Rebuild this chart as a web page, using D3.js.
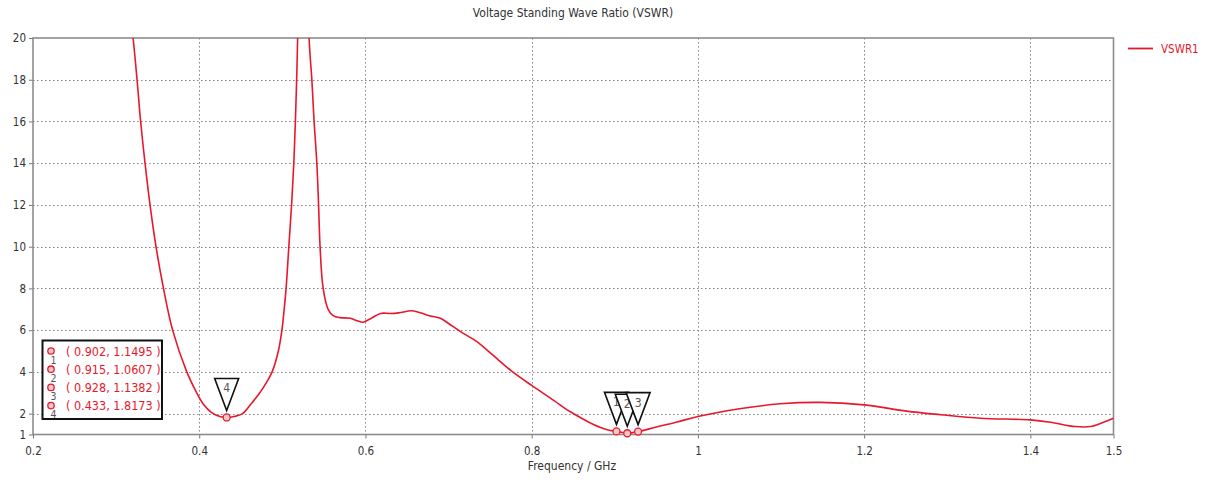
<!DOCTYPE html>
<html><head><meta charset="utf-8">
<script src="https://cdn.jsdelivr.net/npm/d3@7"></script>
<style>
body{margin:0;background:#fff;}
text{font-family:"DejaVu Sans Condensed","DejaVu Sans",sans-serif;font-stretch:condensed;}
</style>
</head><body>
<svg id="chart" width="1208" height="485"></svg>
<script>
// ---- data ----
const freq = [0.300,0.3204,0.3252,0.3295,0.3348,0.3408,0.348,0.357,0.368,0.385,0.395,0.405,0.415,0.425,0.433,0.442,0.452,0.462,0.472,0.481,0.4877,0.4952,0.4995,0.5022,0.5045,0.5078,0.5111,0.5138,0.5157,0.5172,0.5184,0.521,0.525,0.529,0.5322,0.5355,0.5382,0.5415,0.5436,0.5454,0.5491,0.5551,0.5611,0.5695,0.5816,0.590,0.597,0.606,0.618,0.630,0.640,0.656,0.667,0.678,0.690,0.700,0.714,0.734,0.752,0.774,0.800,0.826,0.846,0.866,0.882,0.892,0.902,0.915,0.928,0.950,0.975,1.000,1.050,1.099,1.147,1.200,1.251,1.292,1.340,1.400,1.424,1.454,1.472,1.488,1.500];
const vswr = [27,20,18,16,14,12,10,8,6,4,3.15,2.45,2.05,1.86,1.8173,1.86,2.0,2.45,2.95,3.5,4.0,5.0,6.0,7.0,8.0,10,12,14,16,18,20,30,42,30,20,18,16,14,12,10,8.0,7.0,6.7,6.6,6.57,6.45,6.38,6.55,6.8,6.8,6.83,6.93,6.82,6.68,6.57,6.32,5.94,5.45,4.85,4.1,3.35,2.65,2.1,1.65,1.35,1.22,1.1495,1.0607,1.1382,1.36,1.6,1.86,2.23,2.47,2.54,2.42,2.12,1.95,1.78,1.70,1.59,1.38,1.38,1.59,1.78];
const xTicks = [0.2,0.4,0.6,0.8,1,1.2,1.4,1.5];
const yTicks = [1,2,4,6,8,10,12,14,16,18,20];
const xGrid = [0.4,0.6,0.8,1,1.2,1.4];
const yGrid = [2,4,6,8,10,12,14,16,18];
const markerIds = ["1","2","3","4"];
const markerFreq = [0.902,0.915,0.928,0.433];
const markerVswr = [1.1495,1.0607,1.1382,1.8173];
const seriesName = "VSWR1";
const titleText = "Voltage Standing Wave Ratio (VSWR)";
const xLabel = "Frequency / GHz";

// ---- layout ----
const L = 33, R = 1113.5, T = 38, B = 434.5;
const red = "#e8182c";
const svg = d3.select("#chart");
const x = d3.scaleLinear().domain([0.2,1.5]).range([L,R]);
const y = d3.scaleLinear().domain([1,20]).range([B,T]);

svg.append("text").attr("x",573).attr("y",17).attr("text-anchor","middle")
  .attr("font-size",12).attr("fill","#333").text(titleText);

// grid
const grid = svg.append("g").attr("stroke","#8a8a8a").attr("stroke-width",1).attr("stroke-dasharray","1.6,2.4");
grid.selectAll(".gx").data(xGrid).join("line")
  .attr("x1",d=>Math.round(x(d))+0.5).attr("x2",d=>Math.round(x(d))+0.5).attr("y1",T).attr("y2",B);
grid.selectAll(".gy").data(yGrid).join("line")
  .attr("y1",d=>Math.round(y(d))+0.5).attr("y2",d=>Math.round(y(d))+0.5).attr("x1",L).attr("x2",R);

// axes
const ax = svg.append("g").attr("transform",`translate(0,${B})`)
  .call(d3.axisBottom(x).tickValues(xTicks).tickFormat(d3.format("")).tickSize(4).tickPadding(8));
const ay = svg.append("g").attr("transform",`translate(${L},0)`)
  .call(d3.axisLeft(y).tickValues(yTicks).tickSize(4).tickPadding(3));
[ax,ay].forEach(g=>{
  g.select(".domain").remove();
  g.selectAll(".tick line").attr("stroke","#777");
  g.selectAll(".tick text").attr("font-size",11.5).attr("fill","#333")
   .style("font-family",'"DejaVu Sans Condensed","DejaVu Sans",sans-serif');
});

// frame
svg.append("rect").attr("x",L).attr("y",T).attr("width",R-L).attr("height",B-T)
  .attr("fill","none").attr("stroke","#8c8c8c").attr("stroke-width",1.6);

// x label
svg.append("text").attr("x",572).attr("y",470).attr("text-anchor","middle")
  .attr("font-size",12).attr("fill","#333").text(xLabel);

// curve
svg.append("clipPath").attr("id","clip").append("rect")
  .attr("x",L).attr("y",T).attr("width",R-L).attr("height",B-T);
const pts = freq.map((f,i)=>[f,vswr[i]]);
const line = d3.line().x(d=>x(d[0])).y(d=>y(d[1])).curve(d3.curveCatmullRom.alpha(0.5));
svg.append("path").datum(pts).attr("clip-path","url(#clip)")
  .attr("fill","none").attr("stroke",red).attr("stroke-width",1.6).attr("d",line);

// markers on curve
const mk = svg.append("g");
markerIds.forEach((id,i)=>{
  const px = x(markerFreq[i]), py = y(markerVswr[i]);
  const g = mk.append("g");
  g.append("path")
    .attr("d",`M${px-12},${py-39}L${px+12},${py-39}L${px},${py-7}Z`)
    .attr("fill","#fff").attr("stroke","#111").attr("stroke-width",1.6);
  g.append("text").attr("x",px).attr("y",py-25).attr("text-anchor","middle")
    .attr("font-size",12).attr("fill","#555").text(id);
});
markerIds.forEach((id,i)=>{
  mk.append("circle").attr("cx",x(markerFreq[i])).attr("cy",y(markerVswr[i])).attr("r",3.5)
    .attr("fill","#f6c9c9").attr("stroke",red).attr("stroke-width",1.3);
});

// marker table
const box = svg.append("g");
box.append("rect").attr("x",42.5).attr("y",340.5).attr("width",119.5).attr("height",78.5)
  .attr("fill","#fff").attr("stroke","#111").attr("stroke-width",2);
markerIds.forEach((id,i)=>{
  const cy = 351 + i*18.2;
  box.append("circle").attr("cx",51).attr("cy",cy).attr("r",3.2)
    .attr("fill","#f6c9c9").attr("stroke",red).attr("stroke-width",1.3);
  box.append("text").attr("x",53.5).attr("y",cy+12.5).attr("text-anchor","middle")
    .attr("font-size",10.5).attr("fill","#555").text(id);
  box.append("text").attr("x",66).attr("y",cy+4.5)
    .attr("font-size",12.5).attr("fill",red)
    .text(`( ${markerFreq[i]}, ${markerVswr[i]} )`);
});

// legend
const lg = svg.append("g");
lg.append("line").attr("x1",1128).attr("x2",1153).attr("y1",48.5).attr("y2",48.5)
  .attr("stroke",red).attr("stroke-width",1.8);
lg.append("text").attr("x",1161).attr("y",52.5).attr("font-size",11.5).attr("fill",red).text(seriesName);
</script>
</body></html>
